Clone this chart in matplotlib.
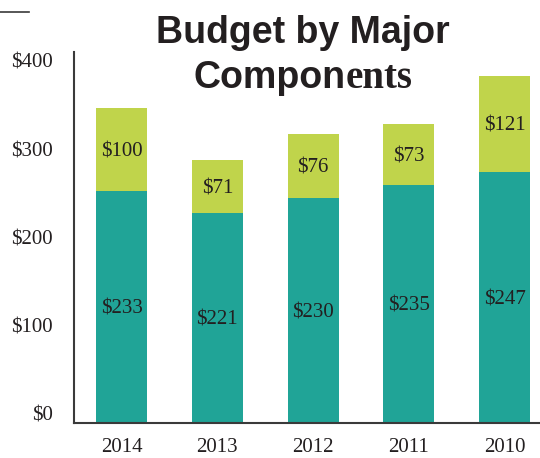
import matplotlib
matplotlib.use("Agg")
import matplotlib.pyplot as plt
from matplotlib.lines import Line2D
from matplotlib.transforms import ScaledTranslation

years = ["2014", "2013", "2012", "2011", "2010"]
# bar heights as drawn in the picture
base_heights = [263, 238, 255, 270, 284]
top_heights = [94, 60, 72, 68, 109]
# values printed on the bars
base_labels = ["$233", "$221", "$230", "$235", "$247"]
top_labels = ["$100", "$71", "$76", "$73", "$121"]
y_ticks = [0, 100, 200, 300, 400]
y_tick_labels = ["$0", "$100", "$200", "$300", "$400"]

teal = "#20A497"
green = "#C0D44B"
ink = "#231F20"
serif = "Liberation Serif"
sans = "Liberation Sans"

fig = plt.figure(figsize=(5.4, 4.58), dpi=100)
ax = fig.add_axes([74 / 540, 35 / 458, 1 - 74 / 540, (423 - 52) / 458])

x = list(range(len(years)))
ax.bar(x, base_heights, width=0.533, color=teal)
ax.bar(x, top_heights, bottom=base_heights, width=0.533, color=green)

for i in x:
    ax.text(i, base_heights[i] / 2, base_labels[i], ha="center",
            va="center_baseline", fontsize=15, family=serif, color=ink)
    ax.text(i, base_heights[i] + top_heights[i] / 2, top_labels[i], ha="center",
            va="center_baseline", fontsize=15, family=serif, color=ink)

ax.set_xlim(-0.496, 4.37)
ax.set_ylim(0, 420)
ax.set_xticks(x)
ax.set_xticklabels(years, family=serif, fontsize=15, color=ink)
ax.set_yticks(y_ticks)
ax.set_yticklabels(y_tick_labels, family=serif, fontsize=15, color=ink)
ax.tick_params(axis="both", length=0)
ax.tick_params(axis="x", pad=11)
ax.tick_params(axis="y", pad=15)
shift = ScaledTranslation(0, 9 / 100, fig.dpi_scale_trans)
for lab in ax.get_yticklabels():
    lab.set_transform(lab.get_transform() + shift)

for side in ["top", "right"]:
    ax.spines[side].set_visible(False)
for side in ["left", "bottom"]:
    ax.spines[side].set_color("#3a3a3a")
    ax.spines[side].set_linewidth(1.5)

# little rule in the top-left corner
fig.add_artist(Line2D([0, 29 / 540], [1 - 12 / 458, 1 - 12 / 458],
                      color="#3a3a3a", lw=1.2))

# title, second line mixes a sans and a serif face
cx = 303 / 540
fig.text(cx, 1 - 43 / 458, "Budget by Major", ha="center", va="baseline",
         fontsize=27, weight="bold", family=sans, color=ink)
t1 = fig.text(0, 1 - 88 / 458, "Compon", ha="left", va="baseline",
              fontsize=27, weight="bold", family=sans, color=ink)
t2 = fig.text(0, 1 - 88 / 458, "ents", ha="left", va="baseline",
              fontsize=28, weight="bold", family=serif, color=ink)
fig.canvas.draw()
r = fig.canvas.get_renderer()
w1 = t1.get_window_extent(r).width / fig.bbox.width
w2 = t2.get_window_extent(r).width / fig.bbox.width
start = cx - (w1 + w2) / 2
t1.set_x(start)
t2.set_x(start + w1)

fig.savefig("out.png", dpi=100)
